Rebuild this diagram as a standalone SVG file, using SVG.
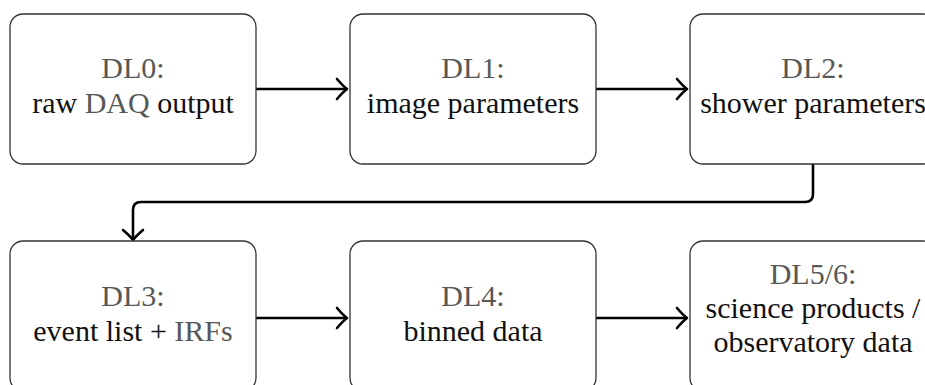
<svg xmlns="http://www.w3.org/2000/svg" width="925" height="385" viewBox="0 0 925 385">
  <style>
    .box { fill: #ffffff; stroke: #333333; stroke-width: 1.3; }
    text { font-family: "Liberation Serif", "Times New Roman", serif; font-size: 30px; fill: #111111; text-anchor: middle; }
    .dl { fill: #585858; }
    .edge { fill: none; stroke: #000000; stroke-width: 2.6; marker-end: url(#tip); }
  </style>
  <defs>
    <marker id="tip" markerUnits="userSpaceOnUse" viewBox="-12 -12 14 24" refX="0" refY="0" markerWidth="14" markerHeight="24" orient="auto" overflow="visible">
      <path d="M-10,-10 Q-4,-3 0,0 Q-4,3 -10,10" fill="none" stroke="#000" stroke-width="2.6" stroke-linecap="round" stroke-linejoin="round"/>
    </marker>
  </defs>

  <rect width="925" height="385" fill="#ffffff"/>

  <!-- connectors -->
  <g id="connectors">
    <path class="edge" d="M256,89 H347"/>
    <path class="edge" d="M596,89 H687"/>
    <path class="edge" d="M813,164 V194 Q813,202 805,202 H141 Q133,202 133,210 V240"/>
    <path class="edge" d="M256,318 H347"/>
    <path class="edge" d="M596,318 H687"/>
  </g>

  <!-- top row -->
  <g id="dl0">
    <rect class="box" x="10" y="14" width="246" height="150" rx="13"/>
    <text x="133" y="78"><tspan class="dl">DL0:</tspan></text>
    <text x="133" y="113">raw <tspan class="dl">DAQ</tspan> output</text>
  </g>
  <g id="dl1">
    <rect class="box" x="350" y="14" width="246" height="150" rx="13"/>
    <text x="473" y="78"><tspan class="dl">DL1:</tspan></text>
    <text x="473" y="113">image parameters</text>
  </g>
  <g id="dl2">
    <rect class="box" x="690" y="14" width="246" height="150" rx="13"/>
    <text x="813" y="78"><tspan class="dl">DL2:</tspan></text>
    <text x="813" y="113">shower parameters</text>
  </g>

  <!-- bottom row -->
  <g id="dl3">
    <rect class="box" x="10" y="241" width="246" height="150" rx="13"/>
    <text x="133" y="306"><tspan class="dl">DL3:</tspan></text>
    <text x="133" y="341">event list + <tspan class="dl">IRFs</tspan></text>
  </g>
  <g id="dl4">
    <rect class="box" x="350" y="241" width="246" height="150" rx="13"/>
    <text x="473" y="306"><tspan class="dl">DL4:</tspan></text>
    <text x="473" y="341">binned data</text>
  </g>
  <g id="dl56">
    <rect class="box" x="690" y="241" width="246" height="150" rx="13"/>
    <text x="813" y="284"><tspan class="dl">DL5/6:</tspan></text>
    <text x="813" y="318">science products /</text>
    <text x="813" y="352">observatory data</text>
  </g>
</svg>
